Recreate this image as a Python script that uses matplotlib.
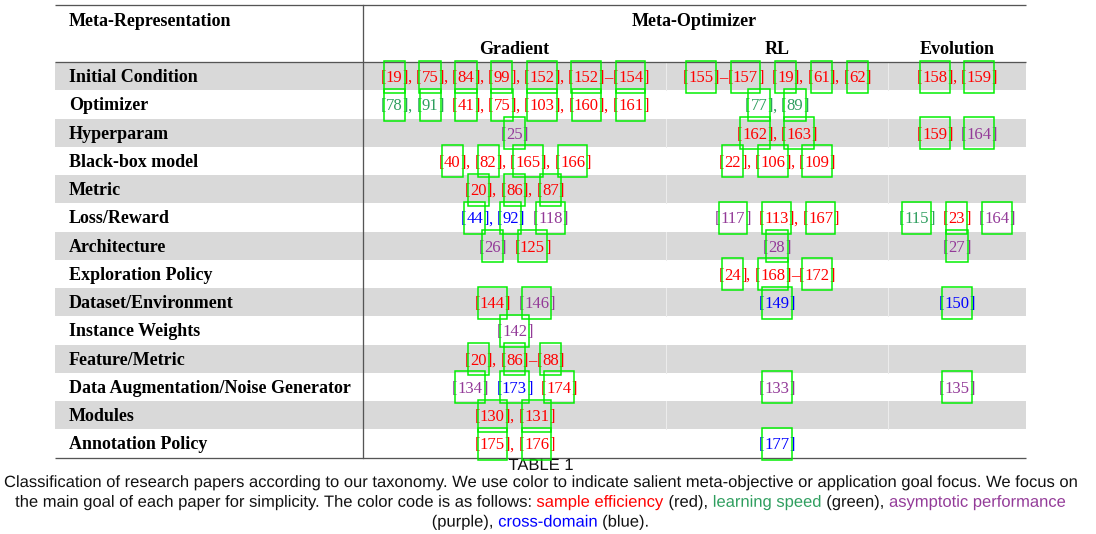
import matplotlib
matplotlib.use("Agg")
import matplotlib.pyplot as plt
from matplotlib.patches import Rectangle, PathPatch
from matplotlib.font_manager import FontProperties
from matplotlib.textpath import TextPath
from matplotlib.transforms import Affine2D

# ---------------- data ----------------
row_labels = [
    "Initial Condition", "Optimizer", "Hyperparam", "Black-box model", "Metric",
    "Loss/Reward", "Architecture", "Exploration Policy", "Dataset/Environment",
    "Instance Weights", "Feature/Metric", "Data Augmentation/Noise Generator",
    "Modules", "Annotation Policy",
]
col_groups = ["Gradient", "RL", "Evolution"]
header_left = "Meta-Representation"
header_top = "Meta-Optimizer"

# each cell: list of cite groups (colour key, citation text)
gradient_cells = [
    [("r", "19, 75, 84, 99, 152, 152–154")],
    [("g", "78, 91"), ("r", "41, 75, 103, 160, 161")],
    [("p", "25")],
    [("r", "40, 82, 165, 166")],
    [("r", "20, 86, 87")],
    [("b", "44, 92"), ("p", "118")],
    [("p", "26"), ("r", "125")],
    [],
    [("r", "144"), ("p", "146")],
    [("p", "142")],
    [("r", "20, 86–88")],
    [("p", "134"), ("b", "173"), ("r", "174")],
    [("r", "130, 131")],
    [("r", "175, 176")],
]
rl_cells = [
    [("r", "155–157"), ("r", "19, 61, 62")],
    [("g", "77, 89")],
    [("r", "162, 163")],
    [("r", "22, 106, 109")],
    [],
    [("p", "117"), ("r", "113, 167")],
    [("p", "28")],
    [("r", "24, 168–172")],
    [("b", "149")],
    [],
    [],
    [("p", "133")],
    [],
    [("b", "177")],
]
evolution_cells = [
    [("r", "158, 159")],
    [],
    [("r", "159"), ("p", "164")],
    [],
    [],
    [("g", "115"), ("r", "23"), ("p", "164")],
    [("p", "27")],
    [],
    [("b", "150")],
    [],
    [],
    [("p", "135")],
    [],
    [],
]

caption_title = "TABLE 1"
caption_lines = [
    [("Classification of research papers according to our taxonomy. We use color to indicate salient meta-objective or application goal focus. We focus on", "k")],
    [("the main goal of each paper for simplicity. The color code is as follows: ", "k"),
     ("sample efficiency", "r"), (" (red), ", "k"), ("learning speed", "g"),
     (" (green), ", "k"), ("asymptotic performance", "p")],
    [("(purple), ", "k"), ("cross-domain", "b"), (" (blue).", "k")],
]

# ---------------- styles ----------------
COLORS = {"r": "#ff0000", "g": "#2e9e5e", "p": "#933a98", "b": "#0000ff", "k": "#111111"}
BOX_COLOR = "#00ee00"
SHADE = "#d9d9d9"
RULE = "#555555"

W, H = 1096, 534
fig = plt.figure(figsize=(W / 100, H / 100), dpi=100)
ax = fig.add_axes([0, 0, 1, 1])
ax.set_xlim(0, W)
ax.set_ylim(H, 0)
ax.axis("off")
renderer = fig.canvas.get_renderer()

SERIF = ["Liberation Serif", "DejaVu Serif"]
SANS = ["Liberation Sans", "DejaVu Sans"]


def text_width(s, family, size, weight="normal"):
    fp = FontProperties(family=family, size=size, weight=weight)
    w1, _, _ = renderer.get_text_width_height_descent("|" + s + "|", fp, ismath=False)
    w0, _, _ = renderer.get_text_width_height_descent("||", fp, ismath=False)
    return w1 - w0


def fit_size(s, family, target, weight="normal"):
    return 10 * target / text_width(s, family, 10, weight)


bold_size = fit_size("Data Augmentation/Noise Generator", SERIF, 282, "bold")
cite_size = fit_size("[19], [75], [84], [99], [152], [152]–[154]", SERIF, 269)

# caption: condensed sans (drawn as scaled text paths)
cap_em = 16.3                      # em in pixels
cap_pt = cap_em * 0.72
cap_sx = 1073 / text_width(caption_lines[0][0][0], SANS, cap_pt)
cap_prop = FontProperties(family=SANS)


def cap_text(x, yb, s, color):
    tp = TextPath((0, 0), s, size=cap_em, prop=cap_prop)
    tr = Affine2D().scale(cap_sx, -1).translate(x, yb) + ax.transData
    ax.add_patch(PathPatch(tp, transform=tr, facecolor=color, edgecolor="none", lw=0))


def cap_width(s):
    return text_width(s, SANS, cap_pt) * cap_sx


# geometry (pixels)
x_left, x_right = 55, 1026
x_vrule = 363
col_bounds = [363, 666, 888, 1026]
y_top, y_mid = 5, 62
row_h = 28.25
n_rows = len(row_labels)
y_bot = y_mid + n_rows * row_h
px = 72 / 100  # points per pixel

# shaded rows
for i in range(n_rows):
    if i % 2 == 0:
        y0 = y_mid + i * row_h
        ax.add_patch(Rectangle((x_left, y0), x_right - x_left, row_h,
                               facecolor=SHADE, edgecolor="none", zorder=0))
        for xb in col_bounds[1:3]:
            ax.plot([xb, xb], [y0, y0 + row_h], color="#ececec", lw=1 * px, zorder=0.5)

# rules
for y in (y_top, y_mid, y_bot):
    ax.plot([x_left, x_right], [y, y], color=RULE, lw=1.3 * px, zorder=1, solid_capstyle="butt")
ax.plot([x_vrule, x_vrule], [y_top, y_bot], color=RULE, lw=1.3 * px, zorder=1)

# headers
ax.text(69, 20 + 5.5, header_left, family=SERIF, size=bold_size, weight="bold",
        ha="left", va="baseline")
ax.text((x_vrule + x_right) / 2, 20 + 5.5, header_top, family=SERIF, size=bold_size,
        weight="bold", ha="center", va="baseline")
for j, g in enumerate(col_groups):
    ax.text((col_bounds[j] + col_bounds[j + 1]) / 2, 48 + 5.5, g, family=SERIF,
            size=bold_size, weight="bold", ha="center", va="baseline")


def cite_pieces(groups):
    """Turn cite groups into list of (text, colour, is_number) pieces plus gaps."""
    pieces = []
    for gi, (ck, txt) in enumerate(groups):
        if gi > 0:
            pieces.append(("  ", "k", False))
        items = [s.strip() for s in txt.split(",")]
        for ii, item in enumerate(items):
            if ii > 0:
                pieces.append((", ", ck, False))
            rng = item.split("–")
            for ri, num in enumerate(rng):
                if ri > 0:
                    pieces.append(("–", ck, False))
                pieces.append(("[", ck, False))
                pieces.append((num, ck, True))
                pieces.append(("]", ck, False))
    return pieces


def draw_cell(groups, xc, yc):
    pieces = cite_pieces(groups)
    if not pieces:
        return
    widths = [text_width(p[0], SERIF, cite_size) for p in pieces]
    x = xc - sum(widths) / 2
    for (s, ck, isnum), w in zip(pieces, widths):
        if s.strip():
            ax.text(x, yc + 6, s, family=SERIF, size=cite_size, color=COLORS[ck],
                    ha="left", va="baseline", zorder=2)
        if isnum:
            pad = 2.2
            ax.add_patch(Rectangle((x - pad, yc + 0.5 - 16), w + 2 * pad, 32,
                                   fill=False, edgecolor=BOX_COLOR, lw=1.5 * px, zorder=3))
        x += w


all_cols = [gradient_cells, rl_cells, evolution_cells]
for i, lab in enumerate(row_labels):
    yc = y_mid + (i + 0.5) * row_h
    ax.text(69, yc + 6, lab, family=SERIF, size=bold_size, weight="bold",
            ha="left", va="baseline", zorder=2)
    for j, cells in enumerate(all_cols):
        draw_cell(cells[i], (col_bounds[j] + col_bounds[j + 1]) / 2, yc)

# caption
xc_cap = (x_left + x_right) / 2
wt = cap_width(caption_title)
cap_text(xc_cap + 0.5 - wt / 2, 470, caption_title, COLORS["k"])
for li, segs in enumerate(caption_lines):
    yb = 487 + li * 19.8
    widths = [cap_width(s) for s, _ in segs]
    x = xc_cap - sum(widths) / 2
    for (s, ck), w in zip(segs, widths):
        cap_text(x, yb, s, COLORS[ck])
        x += w

fig.savefig("out.png", dpi=100)
